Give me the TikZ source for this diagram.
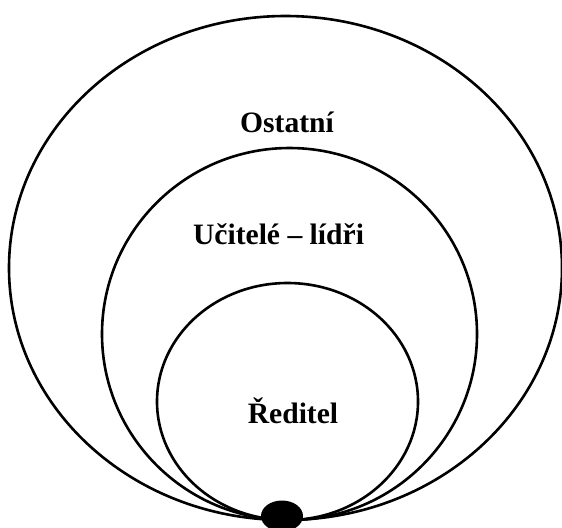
\documentclass[tikz,border=0pt]{standalone}
\usepackage{fontspec}
\setmainfont{Liberation Serif}
\usetikzlibrary{shapes.geometric}
\tikzset{
  ring node/.style={ellipse,draw=black,line width=1.3pt,inner sep=0pt},
  label node/.style={font=\bfseries\fontsize{14.8}{17}\selectfont,inner sep=1pt},
  head node/.style={ellipse,fill=black,inner sep=0pt,
    minimum width=21pt,minimum height=15.5pt}
}

\begin{document}
\begin{tikzpicture}[x=0.5pt,y=-0.5pt]
    \useasboundingbox (0,0) rectangle (562,527);
    \clip (0,0) rectangle (562,527);
    \node[ring node,minimum width=276.5pt,minimum height=252pt] (outer) at (285.5,268) {};
    \node[ring node,minimum width=187.5pt,minimum height=186pt] (middle) at (289.5,334) {};
    \node[ring node,minimum width=130.5pt,minimum height=118.5pt] (inner) at (287.5,401.5) {};
    \node[head node] (dot) at (282,516) {};
    \node[label node] (others) at (287,122) {Ostatní};
    \node[label node] (leaders) at (278.5,234) {Učitelé – lídři};
    \node[label node] (head) at (293,411) {Ředitel};
  \end{tikzpicture}
\end{document}
